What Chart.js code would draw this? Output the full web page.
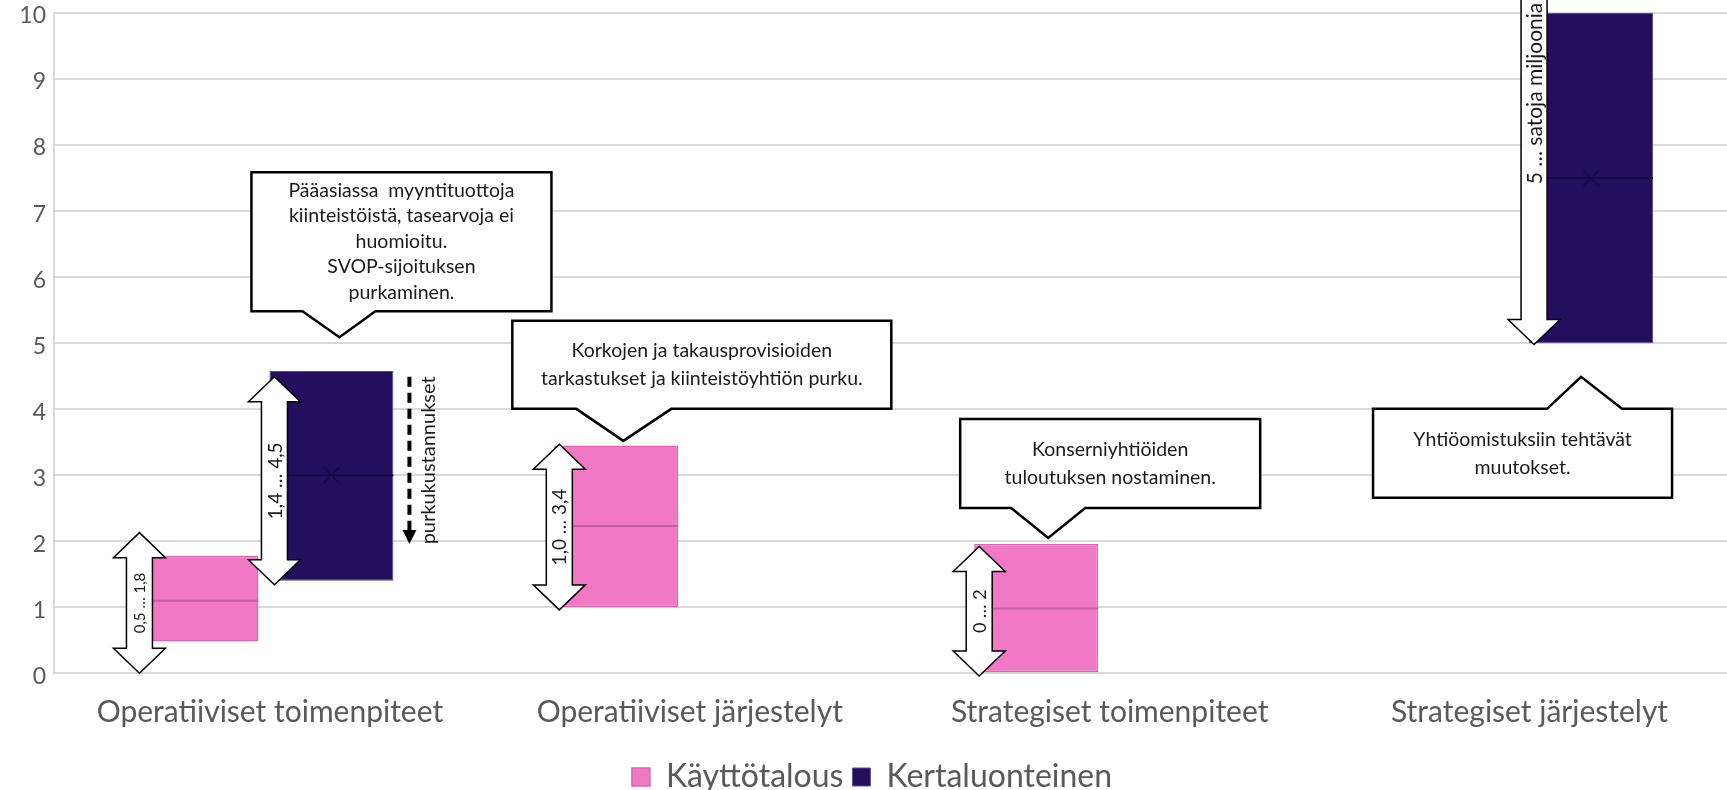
<!DOCTYPE html>
<html lang="fi">
<head>
<meta charset="utf-8">
<title>Toimenpiteiden vaikutukset</title>
<script src="https://cdn.jsdelivr.net/npm/chart.js@4.4.1/dist/chart.umd.min.js"></script>
<style>
  html, body { margin: 0; padding: 0; background: #fff; overflow: hidden; }
  #wrap { position: relative; width: 1744px; height: 803px; }
</style>
</head>
<body>
<div id="wrap"><canvas id="chart"></canvas></div>
<script>
const categories = ['Operatiiviset toimenpiteet', 'Operatiiviset järjestelyt', 'Strategiset toimenpiteet', 'Strategiset järjestelyt']

// [alaraja, yläraja] per luokka
const kayttoRange = [[0.48, 1.78], [1.0, 3.45], [0.0, 1.96], null]
const kertaRange = [[1.40, 4.58], null, null, [5.0, 10.0]]
const kayttoMedian = [1.10, 2.23, 0.98, null]
const kertaMedian = [3.0, null, null, 7.5]
const kertaMean = [3.0, null, null, 7.5]

// range arrows next to the boxes
const rangeArrows = [
  { ds: 0, cat: 0, from: 0.0, to: 2.13, text: '0,5 … 1,8', size: 15 },
  { ds: 1, cat: 0, from: 1.34, to: 4.49, text: '1,4 … 4,5', size: 19 },
  { ds: 0, cat: 1, from: 0.96, to: 3.47, text: '1,0 … 3,4', size: 19 },
  { ds: 0, cat: 2, from: -0.04, to: 1.92, text: '0 … 2', size: 18 },
  { ds: 1, cat: 3, from: 4.98, to: 12.58, text: '5 … satoja miljoonia', size: 21, single: true },
]

const dashedArrow = { ds: 1, cat: 0, from: 4.49, to: 1.96, text: 'purkukustannukset' }

const callouts = [
  { ds: 1, cat: 0, tip: 5.09, dx: 8, box: [-88, 212, -165, -26], base: [-37, 36], lh: 25.5,
    lines: ['Pääasiassa  myyntituottoja', 'kiinteistöistä, tasearvoja ei', 'huomioitu.', 'SVOP-sijoituksen', 'purkaminen.'] },
  { ds: 0, cat: 1, tip: 3.52, dx: 7, box: [-111, 268, -120, -32], base: [-47, 48], lh: 28,
    lines: ['Korkojen ja takausprovisioiden', 'tarkastukset ja kiinteistöyhtiön purku.'] },
  { ds: 0, cat: 2, tip: 2.05, dx: 12, box: [-88, 212, -119, -30], base: [-37, 37], lh: 28,
    lines: ['Konserniyhtiöiden', 'tuloutuksen nostaminen.'] },
  { ds: 1, cat: 3, tip: 4.49, dx: -10, box: [-208, 91, 32, 121], base: [-34, 41], lh: 28,
    lines: ['Yhtiöomistuksiin tehtävät', 'muutokset.'] },
]

const PINK = '#f178c4'
const NAVY = '#240f5e'
const TEXT = '#1a1a1a'
const GREY = '#595959'
const FONT = 'Lato'

function bar(chart, ds, cat) {
  return chart.getDatasetMeta(ds).data[cat]
}

function drawRangeArrow(ctx, cx, yTop, yBot, single) {
  const sw = 13, hw = 26, hl = 25
  ctx.beginPath()
  if (single) {
    ctx.moveTo(cx - sw, yTop)
    ctx.lineTo(cx + sw, yTop)
  } else {
    ctx.moveTo(cx, yTop)
    ctx.lineTo(cx + hw, yTop + hl)
    ctx.lineTo(cx + sw, yTop + hl)
  }
  ctx.lineTo(cx + sw, yBot - hl)
  ctx.lineTo(cx + hw, yBot - hl)
  ctx.lineTo(cx, yBot)
  ctx.lineTo(cx - hw, yBot - hl)
  ctx.lineTo(cx - sw, yBot - hl)
  if (single) {
    ctx.lineTo(cx - sw, yTop)
  } else {
    ctx.lineTo(cx - sw, yTop + hl)
    ctx.lineTo(cx - hw, yTop + hl)
  }
  ctx.closePath()
  ctx.fillStyle = '#fff'
  ctx.fill()
  ctx.lineWidth = 1.5
  ctx.strokeStyle = '#000'
  ctx.stroke()
}

function rotatedText(ctx, text, x, y, size) {
  ctx.save()
  ctx.translate(x, y)
  ctx.rotate(-Math.PI / 2)
  ctx.font = `${size}px ${FONT}`
  ctx.fillStyle = TEXT
  ctx.textAlign = 'center'
  ctx.textBaseline = 'middle'
  ctx.fillText(text, 0, 0)
  ctx.restore()
}

const annotations = {
  id: 'annotations',
  afterDatasetsDraw(chart) {
    const { ctx } = chart
    const y = chart.scales.y
    ctx.save()

    /* ---- medians + mean markers ---- */
    const medians = [[kayttoMedian, '#c95ea3'], [kertaMedian, '#170843']]
    medians.forEach(([arr, color], ds) => {
      arr.forEach((m, i) => {
        if (m == null) return
        const el = bar(chart, ds, i)
        const py = y.getPixelForValue(m)
        ctx.beginPath()
        ctx.moveTo(el.x - el.width / 2, py)
        ctx.lineTo(el.x + el.width / 2, py)
        ctx.strokeStyle = color
        ctx.lineWidth = 2
        ctx.stroke()
      })
    })
    kertaMean.forEach((m, i) => {
      if (m == null) return
      const el = bar(chart, 1, i)
      const py = y.getPixelForValue(m)
      ctx.beginPath()
      ctx.moveTo(el.x - 8, py - 8); ctx.lineTo(el.x + 8, py + 8)
      ctx.moveTo(el.x + 8, py - 8); ctx.lineTo(el.x - 8, py + 8)
      ctx.strokeStyle = '#170a42'
      ctx.lineWidth = 1.2
      ctx.stroke()
    })

    /* ---- range arrows ---- */
    rangeArrows.forEach(a => {
      const el = bar(chart, a.ds, a.cat)
      const cx = el.x - el.width / 2 + 5
      const yTop = y.getPixelForValue(a.to)
      const yBot = y.getPixelForValue(a.from)
      drawRangeArrow(ctx, cx, yTop, yBot, a.single)
      rotatedText(ctx, a.text, cx + 1, (yTop + yBot) / 2, a.size)
    })

    /* ---- dashed arrow ---- */
    {
      const el = bar(chart, dashedArrow.ds, dashedArrow.cat)
      const lx = el.x + el.width / 2 + 16
      const y0 = y.getPixelForValue(dashedArrow.from)
      const y1 = y.getPixelForValue(dashedArrow.to)
      ctx.beginPath()
      ctx.setLineDash([10, 6])
      ctx.moveTo(lx, y0)
      ctx.lineTo(lx, y1 - 12)
      ctx.strokeStyle = '#000'
      ctx.lineWidth = 4
      ctx.stroke()
      ctx.setLineDash([])
      ctx.beginPath()
      ctx.moveTo(lx - 7, y1 - 14)
      ctx.lineTo(lx + 7, y1 - 14)
      ctx.lineTo(lx, y1)
      ctx.closePath()
      ctx.fillStyle = '#000'
      ctx.fill()
      rotatedText(ctx, dashedArrow.text, lx + 19, (y0 + y1) / 2, 20)
    }

    /* ---- callouts ---- */
    callouts.forEach(c => {
      const el = bar(chart, c.ds, c.cat)
      const tx = el.x + c.dx
      const ty = y.getPixelForValue(c.tip)
      const [l, r, t, b] = c.box
      const L = tx + l, R = tx + r, T = ty + t, B = ty + b
      const bl = tx + c.base[0], br = tx + c.base[1]
      ctx.beginPath()
      if (b < 0) {
        // pointer below the box
        ctx.moveTo(L, T); ctx.lineTo(R, T); ctx.lineTo(R, B)
        ctx.lineTo(br, B); ctx.lineTo(tx, ty); ctx.lineTo(bl, B)
        ctx.lineTo(L, B)
      } else {
        // pointer above the box
        ctx.moveTo(L, T); ctx.lineTo(bl, T); ctx.lineTo(tx, ty); ctx.lineTo(br, T)
        ctx.lineTo(R, T); ctx.lineTo(R, B); ctx.lineTo(L, B)
      }
      ctx.closePath()
      ctx.fillStyle = '#fff'
      ctx.fill()
      ctx.lineWidth = 2.5
      ctx.lineJoin = 'miter'
      ctx.strokeStyle = '#000'
      ctx.stroke()

      ctx.font = `19.5px ${FONT}`
      ctx.fillStyle = TEXT
      ctx.textAlign = 'center'
      ctx.textBaseline = 'middle'
      const cy = (T + B) / 2
      const cxBox = (L + R) / 2
      c.lines.forEach((line, i) => {
        ctx.fillText(line, cxBox, cy + (i - (c.lines.length - 1) / 2) * c.lh)
      })
    })

    ctx.restore()
  }
}

new Chart(document.getElementById('chart'), {
  type: 'bar',
  data: {
    labels: categories,
    datasets: [
      {
        label: 'Käyttötalous',
        data: kayttoRange,
        backgroundColor: PINK,
        borderColor: '#d867ad',
        borderWidth: 1.5,
        borderSkipped: false,
      },
      {
        label: 'Kertaluonteinen',
        data: kertaRange,
        backgroundColor: NAVY,
        borderColor: '#5d4f8f',
        borderWidth: 1,
        borderSkipped: false,
      }
    ]
  },
  options: {
    responsive: true,
    maintainAspectRatio: false,
    animation: false,
    categoryPercentage: 0.643,
    barPercentage: 0.9185,
    layout: { padding: { top: 13, bottom: 0, left: 0, right: 0 } },
    plugins: {
      legend: {
        position: 'bottom',
        labels: {
          color: GREY,
          font: { family: FONT, size: 32 },
          boxWidth: 18,
          boxHeight: 18,
          padding: 9,
        }
      },
      tooltip: { enabled: false }
    },
    scales: {
      x: {
        grid: { display: false },
        border: { display: false },
        ticks: {
          color: GREY,
          font: { family: FONT, size: 30 },
          padding: 13,
          labelOffset: 6,
          maxRotation: 0,
          autoSkip: false,
        },
        afterFit: (s) => { s.height = 78.7 }
      },
      y: {
        min: 0,
        max: 10,
        ticks: {
          stepSize: 1,
          color: GREY,
          font: { family: FONT, size: 23 },
          padding: 8,
          labelOffset: 3,
        },
        grid: { color: '#d9d9d9', lineWidth: 2, drawTicks: false },
        border: { color: '#d9d9d9', width: 2 },
        afterFit: (s) => {
          s.width = 54
          s.paddingTop = 0
          s.paddingBottom = 0
        }
      },
      yPad: {
        position: 'right',
        min: 0,
        max: 10,
        grid: { display: false },
        border: { display: false },
        ticks: { display: false },
        afterFit: (s) => { s.width = 10.5 }
      }
    }
  },
  plugins: [annotations]
})
</script>
</body>
</html>
